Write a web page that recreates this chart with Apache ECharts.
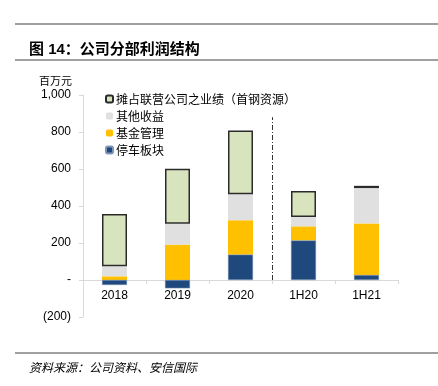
<!DOCTYPE html>
<html><head><meta charset="utf-8">
<script src="https://cdn.jsdelivr.net/npm/echarts@6/dist/echarts.min.js"></script>
<style>html,body{margin:0;padding:0;background:#fff}#c{width:438px;height:386px}</style>
</head><body><div id="c"></div>
<script>
const categories = ['2018', '2019', '2020', '1H20', '1H21'];
const parking = [-27, -45, 137, 214, 27];
const fundMgmt = [20, 191, 186, 76, 279];
const otherIncome = [54, 113, 141, 50, 191];
const associates = [283, 297, 344, 141, 12];
const seriesNames = ['停车板块', '基金管理', '其他收益', '摊占联营公司之业绩（首钢资源）'];
const dividerBetween = ['2020', '1H20'];
const dividerTop = 880;
const yMin = -200, yMax = 1000;

const FONT = 'Liberation Sans, Arial, Noto Sans CJK SC, sans-serif';
const CJK = 'Noto Sans CJK SC, sans-serif';
const chart = echarts.init(document.getElementById('c'));
const grid = { left: 83, right: 40, top: 95, bottom: 69 };
const plotH = 386 - grid.top - grid.bottom;
const zeroOffset = -plotH * (0 - yMin) / (yMax - yMin);
chart.setOption({
  animation: false,
  backgroundColor: '#fff',
  title: [
    { text: '图 14：公司分部利润结构', left: 24, top: 37, textStyle: { fontFamily: FONT, fontSize: 15, fontWeight: 'bold', color: '#000' } },
    { text: '百万元', left: 34, top: 70, textStyle: { fontFamily: CJK, fontSize: 11, fontWeight: 'normal', color: '#000' } },
    { text: '资料来源：公司资料、安信国际', left: 24, top: 356, textStyle: { fontFamily: CJK, fontSize: 12, fontStyle: 'italic', fontWeight: 'normal', color: '#000' } }
  ],
  graphic: [
    { type: 'line', shape: { x1: 15, y1: 24, x2: 438, y2: 24 }, style: { stroke: '#808080', lineWidth: 1.5 } },
    { type: 'line', shape: { x1: 15, y1: 60, x2: 438, y2: 60 }, style: { stroke: '#808080', lineWidth: 1.5 } },
    { type: 'line', shape: { x1: 15, y1: 353, x2: 438, y2: 353 }, style: { stroke: '#808080', lineWidth: 1.5 } }
  ],
  legend: {
    orient: 'vertical', left: 100, top: 88, itemWidth: 7, itemHeight: 7, itemGap: 5,
    data: [seriesNames[3], seriesNames[2], seriesNames[1], seriesNames[0]],
    textStyle: { fontFamily: CJK, fontSize: 12, color: '#000', padding: [0, 0, 0, -2] }
  },
  grid: grid,
  xAxis: {
    type: 'category', data: categories, offset: zeroOffset,
    axisLine: { onZero: false, lineStyle: { color: '#d9d9d9', width: 1 } },
    axisTick: { show: true, length: 4, lineStyle: { color: '#d9d9d9' } },
    axisLabel: { fontFamily: FONT, fontSize: 12, color: '#000', margin: 10 }
  },
  yAxis: {
    type: 'value', min: yMin, max: yMax, interval: 200,
    splitLine: { show: false },
    axisLine: { show: true, lineStyle: { color: '#d9d9d9' } },
    axisTick: { show: true, length: 4, lineStyle: { color: '#d9d9d9' } },
    axisLabel: {
      fontFamily: FONT, fontSize: 12, color: '#000', margin: 12,
      formatter: v => v === 0 ? '-' : (v < 0 ? '(' + Math.abs(v).toLocaleString('en-US') + ')' : v.toLocaleString('en-US'))
    }
  },
  series: [
    { name: seriesNames[0], type: 'bar', stack: 's', data: parking, barWidth: 25, z: 3,
      itemStyle: { color: '#1f497d', borderColor: '#8096b8', borderWidth: 0.5 } },
    { name: seriesNames[1], type: 'bar', stack: 's', data: fundMgmt, itemStyle: { color: '#ffc000' } },
    { name: seriesNames[2], type: 'bar', stack: 's', data: otherIncome, itemStyle: { color: '#e0e0e0' } },
    { name: seriesNames[3], type: 'bar', stack: 's', data: associates, itemStyle: { color: '#d7e4bd', borderColor: '#2b2b2b', borderWidth: 1.5 } }
  ]
});
const xa = chart.convertToPixel({ xAxisIndex: 0 }, dividerBetween[0]);
const xb = chart.convertToPixel({ xAxisIndex: 0 }, dividerBetween[1]);
const xMid = (xa + xb) / 2;
const y0 = chart.convertToPixel({ yAxisIndex: 0 }, 0);
const yTop = chart.convertToPixel({ yAxisIndex: 0 }, dividerTop);
chart.setOption({
  series: [{
    markLine: {
      symbol: 'none', silent: true, label: { show: false },
      lineStyle: { color: '#333', width: 1, type: [5, 2, 1, 2] },
      data: [[{ x: xMid, y: y0 }, { x: xMid, y: yTop }]]
    }
  }]
});
</script></body></html>
